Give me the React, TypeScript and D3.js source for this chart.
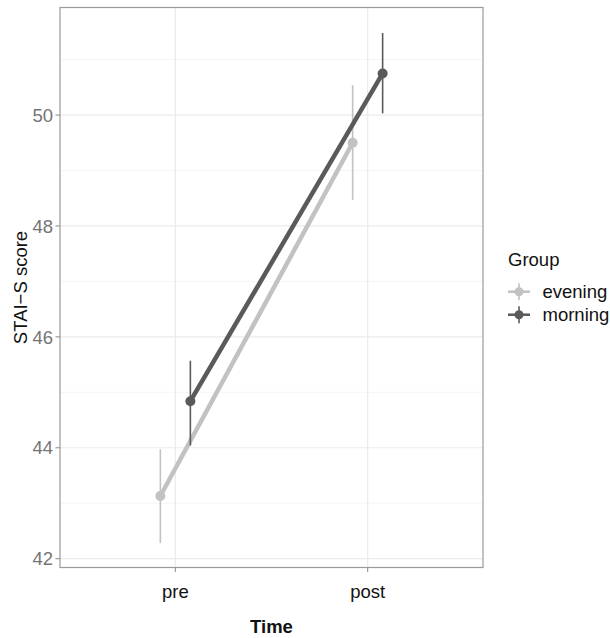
import * as d3 from 'd3';

const times = ['pre', 'post'];
const groups = ['evening', 'morning'];
const groupColors = ['#c2c2c2', '#5a5a5a'];
const means = [
  [43.13, 49.5],
  [44.84, 50.75],
];
const lower = [
  [42.28, 48.47],
  [44.04, 50.03],
];
const upper = [
  [43.97, 50.54],
  [45.57, 51.48],
];
const yTicks = [42, 44, 46, 48, 50];
const yMinor = [43, 45, 47, 49, 51];

export default function App() {
  const width = 610;
  const height = 638;
  const left = 60;
  const right = 483;
  const top = 7.5;
  const bottom = 567.5;

  const y = d3.scaleLinear().domain([41.84, 51.94]).range([bottom, top]);
  const x = d3.scalePoint().domain(times).range([left, right]).padding(0.6);
  const dodge = d3.scaleBand().domain(groups).range([-30, 30]);
  const xpos = (t, g) => x(t) + dodge(g) + dodge.bandwidth() / 2;

  const line = d3
    .line()
    .x((d) => d[0])
    .y((d) => d[1]);

  const font = 'Liberation Sans, Arial, sans-serif';
  const fs = 18.5;

  return (
    <svg width={width} height={height} style={{ position: 'absolute', left: 0, top: 0 }}>
      <rect x={0} y={0} width={width} height={height} fill="white" />
      {yMinor.map((v) => (
        <line key={'mi' + v} x1={left} x2={right} y1={y(v)} y2={y(v)} stroke="#f3f3f3" strokeWidth={0.8} />
      ))}
      {yTicks.map((v) => (
        <line key={'ma' + v} x1={left} x2={right} y1={y(v)} y2={y(v)} stroke="#ebebeb" strokeWidth={1.2} />
      ))}
      {times.map((t) => (
        <line key={'vx' + t} x1={x(t)} x2={x(t)} y1={top} y2={bottom} stroke="#ebebeb" strokeWidth={1.2} />
      ))}
      {groups.map((g, gi) => (
        <g key={g}>
          <path
            d={line(times.map((t, ti) => [xpos(t, g), y(means[gi][ti])]))}
            stroke={groupColors[gi]}
            strokeWidth={4.5}
            fill="none"
          />
          {times.map((t, ti) => (
            <g key={t}>
              <line
                x1={xpos(t, g)}
                x2={xpos(t, g)}
                y1={y(lower[gi][ti])}
                y2={y(upper[gi][ti])}
                stroke={groupColors[gi]}
                strokeWidth={1.6}
              />
              <circle cx={xpos(t, g)} cy={y(means[gi][ti])} r={5} fill={groupColors[gi]} />
            </g>
          ))}
        </g>
      ))}
      <rect x={left} y={top} width={right - left} height={bottom - top} fill="none" stroke="#9a9a9a" strokeWidth={1.2} />
      {yTicks.map((v) => (
        <g key={'yt' + v}>
          <line x1={left - 4.5} x2={left} y1={y(v)} y2={y(v)} stroke="#9a9a9a" strokeWidth={1.2} />
          <text x={left - 7} y={y(v)} dy="0.36em" textAnchor="end" fontSize={fs} fill="#757575" fontFamily={font}>
            {v}
          </text>
        </g>
      ))}
      {times.map((t) => (
        <g key={'xt' + t}>
          <line x1={x(t)} x2={x(t)} y1={bottom} y2={bottom + 4.5} stroke="#9a9a9a" strokeWidth={1.2} />
          <text x={x(t)} y={598} textAnchor="middle" fontSize={fs} fill="#111" fontFamily={font}>
            {t}
          </text>
        </g>
      ))}
      <text
        transform={`translate(${27}, ${(top + bottom) / 2}) rotate(-90)`}
        textAnchor="middle"
        fontSize={fs}
        fill="#111"
        fontFamily={font}
      >
        STAI−S score
      </text>
      <text x={(left + right) / 2} y={633} textAnchor="middle" fontSize={fs} fontWeight="bold" fill="#111" fontFamily={font}>
        Time
      </text>
      <text x={508} y={266} fontSize={fs} fill="#111" fontFamily={font}>
        Group
      </text>
      {groups.map((g, gi) => {
        const cy = 291.7 + gi * 23;
        return (
          <g key={'lg' + g}>
            <line x1={508} x2={530} y1={cy} y2={cy} stroke={groupColors[gi]} strokeWidth={2.5} />
            <line x1={519} x2={519} y1={cy - 8.5} y2={cy + 8.5} stroke={groupColors[gi]} strokeWidth={1.6} />
            <circle cx={519} cy={cy} r={4.5} fill={groupColors[gi]} />
            <text x={542.5} y={cy} dy="0.36em" fontSize={fs} fill="#111" fontFamily={font}>
              {g}
            </text>
          </g>
        );
      })}
    </svg>
  );
}
